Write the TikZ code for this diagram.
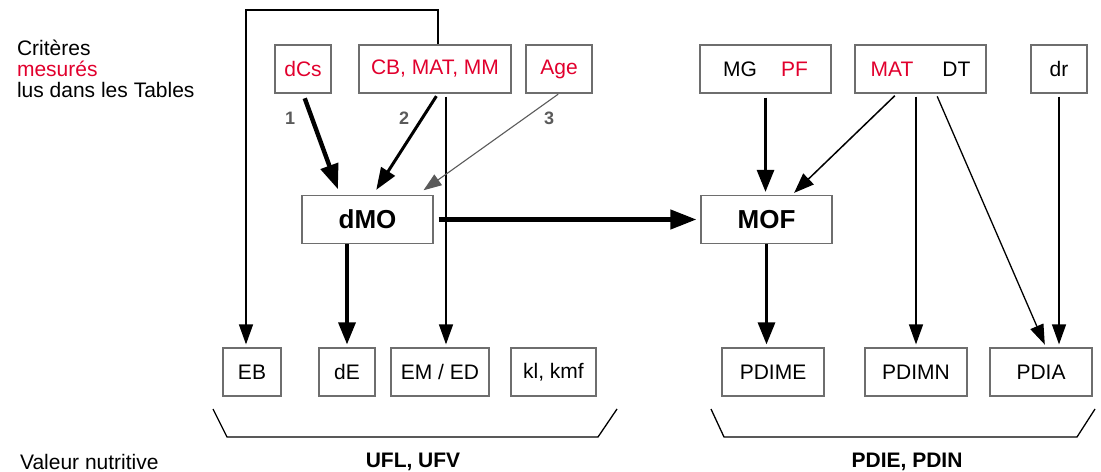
\documentclass[tikz,border=0pt]{standalone}
\usepackage{fontspec}
\setmainfont{Liberation Sans}
\usetikzlibrary{arrows.meta}
\definecolor{mesured}{RGB}{225,0,45}
\definecolor{boxgray}{RGB}{110,110,110}
\definecolor{numgray}{RGB}{90,90,90}
\begin{document}
\begin{tikzpicture}[x=0.5pt,y=-0.5pt,
  box/.style={draw=boxgray,line width=0.6pt,minimum height=24pt,inner sep=0pt,font=\fontsize{10.5}{12}\selectfont},
  big/.style={box,font=\fontsize{13}{15}\bfseries},
  num/.style={font=\fontsize{9}{10}\bfseries,text=numgray},
  thin/.style={line width=0.65pt,-{Triangle[length=10pt,width=7pt]},shorten <=1.5pt,shorten >=1.5pt},
  heavy/.style={line width=2.2pt,-{Triangle[length=12.5pt,width=9pt]}}]
\useasboundingbox (0,0) rectangle (1101,471);

\node[box,minimum width=28pt,text=mesured] (dcs) at (303,69) {dCs};
\node[box,minimum width=76pt,text=mesured] (cb) at (435,69) {CB, MAT, MM};
\node[box,minimum width=33pt,text=mesured] (age) at (559,69) {Age};
\node[box,minimum width=65.5pt] (mgpf) at (765.5,69) {MG\hspace{12pt}\textcolor{mesured}{PF}};
\node[box,minimum width=65.5pt] (matdt) at (920.5,69) {\textcolor{mesured}{MAT}\hspace{14.5pt}DT};
\node[box,minimum width=28pt] (dr) at (1059,69) {dr};

\node[big,minimum width=65.5pt] (dmo) at (367.5,219.5) {dMO};
\node[big,minimum width=65.5pt] (mof) at (766.5,219.5) {MOF};

\node[box,minimum width=29pt] (eb) at (252,372) {EB};
\node[box,minimum width=28pt] (de) at (347,372) {dE};
\node[box,minimum width=49pt] (emed) at (440,372) {EM / ED};
\node[box,minimum width=42.5pt] (kl) at (553.5,372) {kl, kmf};
\node[box,minimum width=51pt] (pdime) at (773,372) {PDIME};
\node[box,minimum width=51pt] (pdimn) at (916,372) {PDIMN};
\node[box,minimum width=51pt] (pdia) at (1041,372) {PDIA};

\node[anchor=west,align=left,font=\fontsize{10.5}{10.5}\selectfont] (crit) at (10,69) {Critères\\\textcolor{mesured}{mesurés}\\lus dans les Tables};
\node[num] (n1) at (290,118) {1};
\node[num] (n2) at (404,118) {2};
\node[num] (n3) at (549,118) {3};
\node[anchor=west,font=\fontsize{10.5}{12}\selectfont] (valeur) at (13,462) {Valeur nutritive};
\node[font=\fontsize{10.5}{12}\bfseries] (ufl) at (413,462) {UFL, UFV};
\node[font=\fontsize{10.5}{12}\bfseries] (pdie) at (907,462) {PDIE, PDIN};

\coordinate (loopr) at (438,10);
\coordinate (loopl) at (246,10);
\coordinate (emx) at (446,0);

\path[draw,thin,shorten <=0pt] (cb.north -| loopr) -- (loopr) -- (loopl) -- (eb.north -| loopl);
\path[draw,thin] (cb.south -| emx) -- (emed.north -| emx);
\path[draw,heavy,shorten <=2.5pt,shorten >=3pt] (dcs.south) -- ([xshift=-13.75pt]dmo.north);
\path[draw,line width=1.5pt,-{Triangle[length=11pt,width=8pt]},shorten <=1.5pt,shorten >=3pt] ([xshift=1.5pt]cb.south) -- ([xshift=2.75pt]dmo.north);
\path[draw=numgray,line width=0.55pt,-{Triangle[length=9pt,width=6.5pt]},shorten <=0.5pt,shorten >=4pt] (age.south) -- ([xshift=24.75pt]dmo.north);
\path[draw,heavy,-{Triangle[length=13pt,width=9.5pt]},shorten <=2.5pt,shorten >=2pt] (dmo.east) -- (mof.west);
\path[draw,line width=1.7pt,-{Triangle[length=11pt,width=8.5pt]},shorten >=1.5pt] (dmo.south -| de.north) -- (de.north);

\path[draw,line width=1.4pt,-{Triangle[length=11pt,width=8.5pt]},shorten <=2pt,shorten >=1.5pt] (mgpf.south) -- (mof.north -| mgpf.south);
\path[draw,line width=0.75pt,-{Triangle[length=10pt,width=7.5pt]},shorten <=1.5pt,shorten >=1.5pt] ([xshift=-11.75pt]matdt.south) -- ([xshift=12.75pt]mof.north);
\path[draw,thin] (matdt.south -| pdimn.north) -- (pdimn.north);
\path[draw,thin] ([xshift=7.75pt]matdt.south) -- ([xshift=2.5pt]pdia.north);
\path[draw,thin] (dr.south) -- (pdia.north -| dr.south);
\path[draw,line width=1.5pt,-{Triangle[length=11pt,width=8.5pt]},shorten >=1.5pt] (mof.south) -- (mof.south |- pdime.north);

\draw[line width=0.65pt] (213,409) -- (227,437) -- (598,437) -- (617,409);
\draw[line width=0.65pt] (711,409) -- (724,437) -- (1077,437) -- (1095,409);
\end{tikzpicture}
\end{document}
